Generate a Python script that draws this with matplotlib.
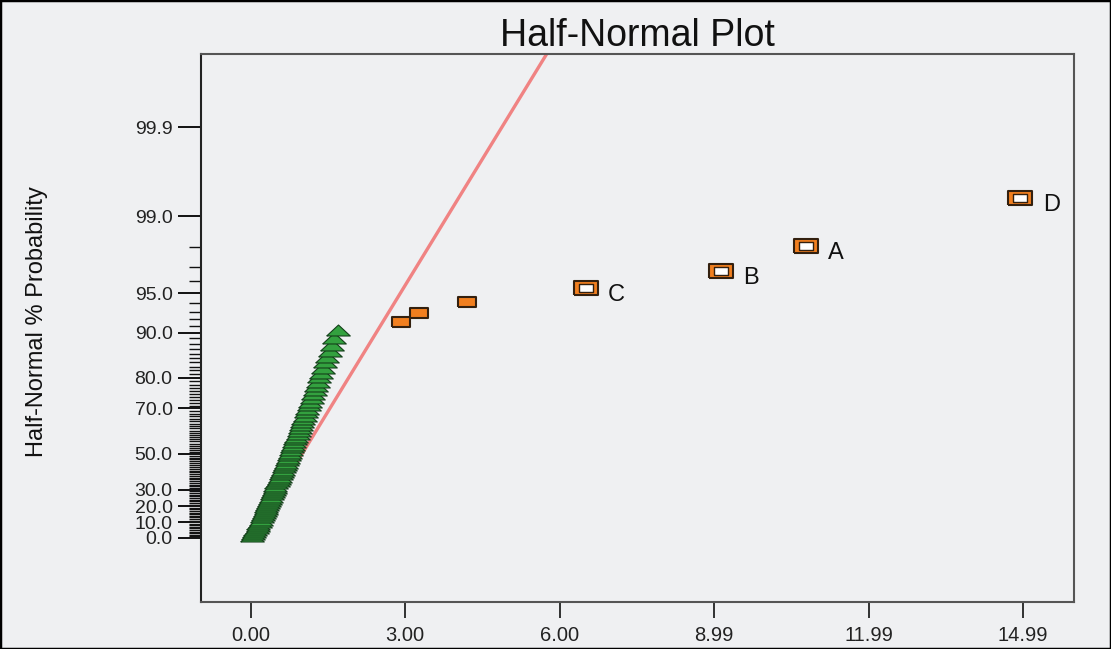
"""
Half-normal probability plot of effects
"""

import matplotlib
matplotlib.use("Agg")
import matplotlib.pyplot as plt
from matplotlib.patches import Rectangle
from statistics import NormalDist

# big effects (orange squares), label blank = not named
effect_names = ["", "", "", "C", "B", "A", "D"]
effect_sizes = [2.92, 3.26, 4.20, 6.50, 9.12, 10.77, 14.94]

# error estimates (green triangles), smallest first
error_sizes = [
    0.03, 0.05, 0.07, 0.09, 0.12, 0.14, 0.15, 0.18, 0.20, 0.21,
    0.23, 0.25, 0.27, 0.29, 0.30, 0.32, 0.34, 0.36, 0.37, 0.39,
    0.41, 0.43, 0.45, 0.47, 0.48, 0.50, 0.52, 0.55, 0.57, 0.58,
    0.60, 0.62, 0.64, 0.66, 0.68, 0.70, 0.72, 0.74, 0.76, 0.78,
    0.80, 0.82, 0.84, 0.86, 0.88, 0.91, 0.93, 0.95, 0.97, 1.00,
    1.02, 1.05, 1.07, 1.10, 1.13, 1.16, 1.18, 1.21, 1.24, 1.27,
    1.30, 1.33, 1.36, 1.40, 1.44, 1.48, 1.53, 1.57, 1.62, 1.70,
]

x_ticks = [0.0, 2.998, 5.996, 8.994, 11.992, 14.99]
x_tick_labels = ["0.00", "3.00", "6.00", "8.99", "11.99", "14.99"]
y_major = [0, 10, 20, 30, 50, 70, 80, 90, 95, 99, 99.9]

fit_slope = 1.482  # effect units per half-normal quantile

BG = "#eff0f2"
GREEN = "#33a13f"
GREEN_EDGE = "#14401a"
ORANGE = "#f17f1f"
ORANGE_EDGE = "#33200f"
LINE = "#f08383"
FONT = ["Liberation Sans", "DejaVu Sans"]


def hn(p):
    """half-normal quantile for a percent value"""
    return NormalDist().inv_cdf(0.5 + p / 200.0)


# plotting positions from rank, (i - 0.5) / n
n = len(error_sizes) + len(effect_sizes)
ranks = range(1, n + 1)
z_all = [hn(100.0 * (i - 0.5) / n) for i in ranks]
z_err = z_all[:len(error_sizes)]
z_eff = z_all[len(error_sizes):]

rect = [(-1, -0.57), (1, -0.57), (1, 0.57), (-1, 0.57), (-1, -0.57)]
rect_in = [(-1, -0.62), (1, -0.62), (1, 0.62), (-1, 0.62), (-1, -0.62)]
tri = [(-1, -0.38), (1, -0.38), (0, 0.55), (-1, -0.38)]

fig = plt.figure(figsize=(11.11, 6.49), dpi=100, facecolor=BG)
ax = fig.add_axes([201 / 1111, 1 - 602 / 649, 873 / 1111, 548 / 649])
ax.set_facecolor(BG)

ax.set_xlim(-0.965, 15.98)
ax.set_ylim(-0.514, 3.876)

# fitted line through the origin
z_top = ax.get_ylim()[1]
ax.plot([0, fit_slope * z_top], [0, z_top], color=LINE, lw=2.4, zorder=2,
        solid_capstyle="butt")

ax.plot(error_sizes, z_err, ls="none", marker=tri, ms=17, mfc=GREEN,
        mec=GREEN_EDGE, mew=0.8, zorder=3)

for name, xv, zv in zip(effect_names, effect_sizes, z_eff):
    if name:
        ax.plot(xv, zv, ls="none", marker=rect, ms=17.5, mfc=ORANGE,
                mec=ORANGE_EDGE, mew=1.5, zorder=4)
        ax.plot(xv, zv, ls="none", marker=rect_in, ms=9.5, mfc="white",
                mec=ORANGE_EDGE, mew=1.0, zorder=5)
        ax.annotate(name, (xv, zv), xytext=(16, -5), textcoords="offset points",
                    ha="left", va="center", fontsize=17, color="#111111",
                    family=FONT)
    else:
        ax.plot(xv, zv, ls="none", marker=rect, ms=13.5, mfc=ORANGE,
                mec=ORANGE_EDGE, mew=1.5, zorder=4)

# axes, ticks
ax.set_xticks(x_ticks)
ax.set_xticklabels(x_tick_labels, family=FONT, fontsize=14.5, color="#222222")
ax.set_yticks([hn(p) for p in y_major])
ax.set_yticklabels(["%.1f" % p for p in y_major], family=FONT,
                   fontsize=14, color="#222222")
ax.set_yticks([hn(p) for p in range(1, 99) if p not in y_major], minor=True)

ax.tick_params(axis="y", which="major", direction="out", length=16.5, width=1.4,
               color="#111111", pad=4)
ax.tick_params(axis="y", which="minor", direction="out", length=8.5, width=1.0,
               color="#111111")
ax.tick_params(axis="x", which="major", direction="out", length=11.5, width=1.3,
               color="#222222", pad=6)

for side, sp in ax.spines.items():
    sp.set_linewidth(1.5)
    sp.set_color("#555555")
ax.spines["left"].set_color("#222222")

ax.set_title("Half-Normal Plot", family=FONT, fontsize=27, color="#111111", pad=5)
fig.text(37 / 1111, 1 - 322 / 649, "Half-Normal % Probability", rotation=90,
         ha="center", va="center", fontsize=17, color="#111111", family=FONT)

# black frame round the whole picture
fig.patches.append(Rectangle((0, 0), 1, 1, transform=fig.transFigure, fill=False,
                             ec="black", lw=2.5))

fig.savefig("out.png", dpi=100, facecolor=BG)
